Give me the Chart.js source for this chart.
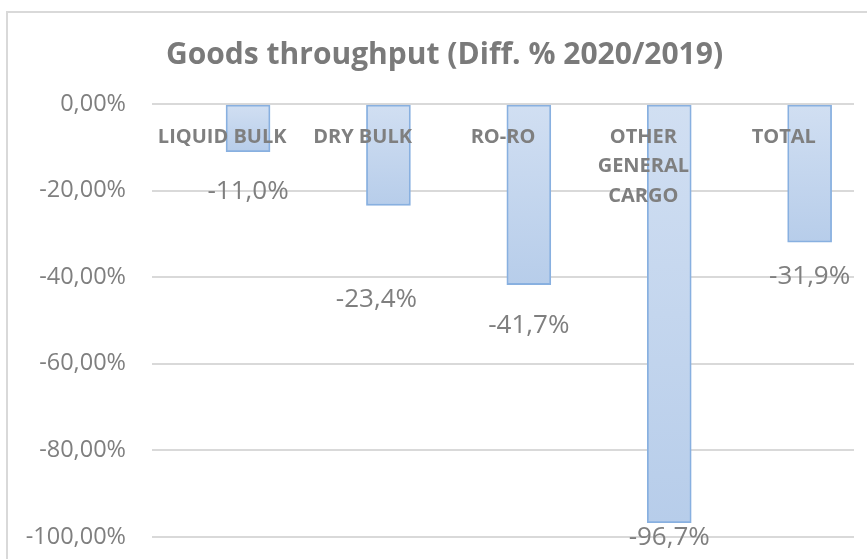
<!DOCTYPE html>
<html>
<head>
<meta charset="utf-8">
<script src="https://cdn.jsdelivr.net/npm/chart.js@4/dist/chart.umd.min.js"></script>
<style>
  html, body { margin: 0; padding: 0; background: #ffffff; overflow: hidden; }
  #wrap { position: relative; width: 867px; height: 559px; }
  #frame { position: absolute; left: 6px; top: 11px; width: 900px; height: 600px;
           border: 2px solid #d9d9d9; box-sizing: border-box; }
  #c { position: absolute; left: 0; top: 0; }
</style>
</head>
<body>
<div id="wrap">
  <div id="frame"></div>
  <canvas id="c" width="867" height="559"></canvas>
</div>
<script>
// ---- data ----
const categories = ['LIQUID BULK', 'DRY BULK', 'RO-RO', 'OTHER GENERAL CARGO', 'TOTAL'];
const values = [-11.0, -23.4, -41.7, -96.7, -31.9];
const valueLabels = ['-11,0%', '-23,4%', '-41,7%', '-96,7%', '-31,9%'];
const yTicks = [0, -20, -40, -60, -80, -100];
const titleText = 'Goods throughput (Diff. % 2020/2019)';

// ---- helpers ----
const axisLabels = categories.map(c => c === 'OTHER GENERAL CARGO' ? c.split(' ') : c);
const barPoints = values.map((v, i) => ({ x: i, y: v }));
const GRAY = '#7f7f7f';

const zeroPad = s => { s.paddingTop = 0; s.paddingBottom = 0; };

const dataLabelPlugin = {
  id: 'dataLabels',
  afterDatasetsDraw(chart, args, opts) {
    const ctx = chart.ctx;
    const meta = chart.getDatasetMeta(0);
    ctx.save();
    ctx.font = opts.font;
    ctx.fillStyle = opts.color;
    ctx.textAlign = 'center';
    ctx.textBaseline = 'middle';
    meta.data.forEach((bar, i) => {
      const dx = (opts.dx && opts.dx[i]) || 0;
      const dy = (opts.dy && opts.dy[i]) || 0;
      ctx.fillText(valueLabels[i], bar.x + dx, bar.y + dy);
    });
    ctx.restore();
  }
};

function barGradient(context) {
  const chart = context.chart;
  const ys = chart.scales && chart.scales.y;
  if (!ys || context.parsed == null || ys.top === undefined) return 'rgb(197,214,237)';
  const v = context.parsed.y;
  const y0 = ys.getPixelForValue(0);
  const y1 = ys.getPixelForValue(v);
  if (!isFinite(y0) || !isFinite(y1) || y0 === y1) return 'rgb(197,214,237)';
  const g = chart.ctx.createLinearGradient(0, y0, 0, y1);
  g.addColorStop(0, 'rgb(209,223,242)');
  g.addColorStop(1, 'rgb(183,205,234)');
  return g;
}

new Chart(document.getElementById('c'), {
  type: 'bar',
  data: {
    labels: axisLabels,
    datasets: [{
      data: barPoints,
      xAxisID: 'xb',
      yAxisID: 'y',
      backgroundColor: barGradient,
      borderColor: 'rgb(136,176,224)',
      borderWidth: 1.8,
      borderSkipped: false,
      barThickness: 44
    }]
  },
  options: {
    responsive: false,
    animation: false,
    devicePixelRatio: 1,
    layout: { padding: { left: 22, right: 0, top: 0, bottom: 22 } },
    plugins: {
      legend: { display: false },
      tooltip: { enabled: false },
      title: {
        display: true,
        text: titleText,
        color: '#7a7a7a',
        font: { family: 'Open Sans', size: 30, weight: 'bold', lineHeight: 1.2 },
        padding: { top: 37, bottom: 31 }
      },
      dataLabels: {
        font: '26px "Open Sans"',
        color: GRAY,
        dx: [0, -12, 0, 0, 0],
        dy: [40, 94, 41, 15, 34]
      }
    },
    scales: {
      x: {
        type: 'category',
        position: { y: 0 },
        offset: true,
        afterFit: s => { s.height = 0; zeroPad(s); },
        grid: { display: false, drawTicks: false },
        border: { display: false },
        ticks: {
          z: 1,
          padding: 18,
          color: GRAY,
          maxRotation: 0,
          autoSkip: false,
          font: { family: 'Open Sans', size: 20, weight: 'bold', lineHeight: 1.48 }
        }
      },
      xb: {
        type: 'linear',
        display: false,
        offset: false,
        min: -0.684,
        max: 4.316,
        afterFit: zeroPad,
        grid: { display: false, offset: false }
      },
      y: {
        type: 'linear',
        min: -100,
        max: 0,
        afterFit: s => { s.width = 130; zeroPad(s); },
        afterBuildTicks: s => { s.ticks = yTicks.map(v => ({ value: v })); },
        grid: { color: 'rgb(217,217,217)', lineWidth: 2, drawTicks: false },
        border: { display: false },
        ticks: {
          padding: 26,
          color: GRAY,
          font: { family: 'Open Sans', size: 23.5 },
          callback: v => v.toFixed(2).replace('.', ',').replace('-0,00', '0,00') + '%'
        }
      },
      yr: {
        type: 'linear',
        position: 'right',
        display: true,
        afterFit: s => { s.width = 13; zeroPad(s); },
        grid: { display: false, drawTicks: false },
        border: { display: false },
        ticks: { display: false }
      }
    }
  },
  plugins: [dataLabelPlugin]
});
</script>
</body>
</html>
